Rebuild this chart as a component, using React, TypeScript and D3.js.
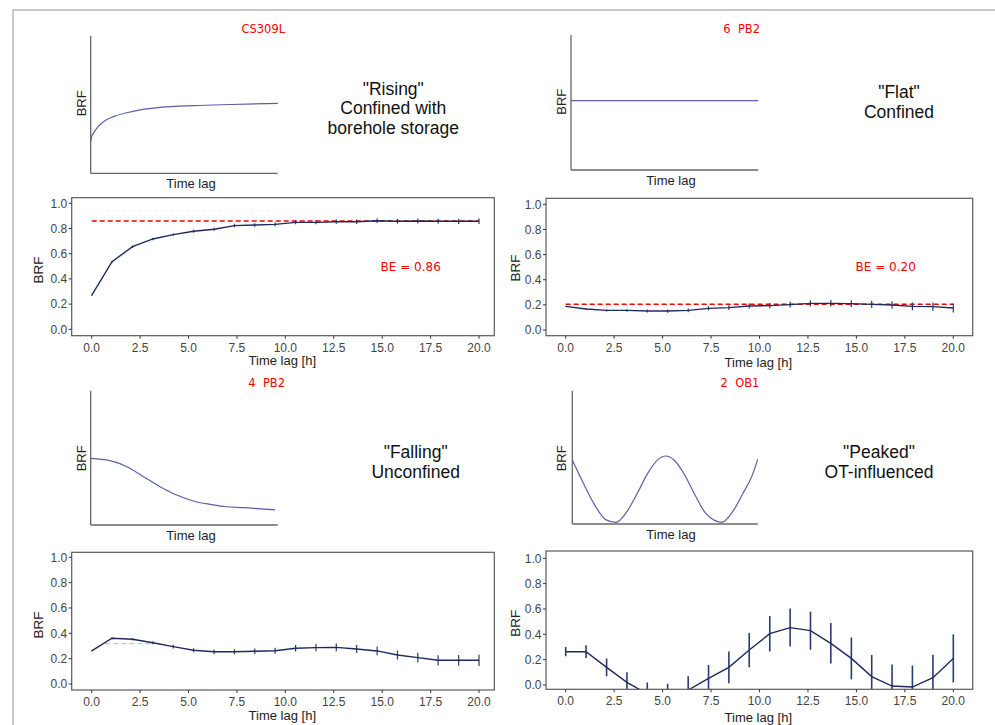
import React from 'react';
import * as d3 from 'd3';

// ---------- data ----------
const lagHours = [0, 1.05, 2.11, 3.16, 4.21, 5.26, 6.32, 7.37, 8.42, 9.47, 10.53, 11.58, 12.63, 13.68, 14.74, 15.79, 16.84, 17.89, 18.95, 20.0];
const xTickValues = [0, 2.5, 5, 7.5, 10, 12.5, 15, 17.5, 20];
const yTickValues = [0, 0.2, 0.4, 0.6, 0.8, 1.0];

const risingBRF = [0.27, 0.537, 0.656, 0.717, 0.751, 0.778, 0.794, 0.823, 0.828, 0.833, 0.849, 0.849, 0.854, 0.854, 0.862, 0.857, 0.86, 0.857, 0.857, 0.857];
const risingErr = [0.004, 0.008, 0.01, 0.01, 0.01, 0.012, 0.012, 0.014, 0.014, 0.015, 0.016, 0.016, 0.017, 0.018, 0.018, 0.019, 0.02, 0.02, 0.021, 0.022];

const flatBRF = [0.188, 0.167, 0.156, 0.156, 0.151, 0.151, 0.156, 0.172, 0.178, 0.191, 0.194, 0.202, 0.212, 0.212, 0.21, 0.204, 0.199, 0.188, 0.186, 0.175];
const flatErr = [0.004, 0.006, 0.008, 0.01, 0.012, 0.013, 0.015, 0.016, 0.018, 0.02, 0.021, 0.023, 0.025, 0.026, 0.027, 0.028, 0.03, 0.031, 0.033, 0.035];

const fallingBRF = [0.261, 0.361, 0.353, 0.326, 0.295, 0.266, 0.255, 0.255, 0.258, 0.263, 0.282, 0.287, 0.289, 0.276, 0.261, 0.229, 0.208, 0.187, 0.187, 0.187];
const fallingErr = [0.004, 0.008, 0.01, 0.012, 0.014, 0.016, 0.018, 0.02, 0.022, 0.024, 0.026, 0.028, 0.03, 0.032, 0.034, 0.036, 0.038, 0.04, 0.042, 0.044];

const peakedBRF = [0.263, 0.263, 0.139, 0.021, -0.07, -0.09, -0.04, 0.053, 0.139, 0.276, 0.405, 0.453, 0.429, 0.329, 0.21, 0.066, -0.008, -0.016, 0.058, 0.21];
const peakedErr = [0.037, 0.05, 0.07, 0.08, 0.09, 0.1, 0.11, 0.105, 0.125, 0.135, 0.14, 0.15, 0.15, 0.16, 0.165, 0.17, 0.17, 0.17, 0.18, 0.19];

const beValues = [0.86, 0.205, 0.318, null];
const beLabels = ['BE = 0.86', 'BE = 0.20', null, null];
const beSpan = [[0, 20], [0, 20], [0.7, 3.2], null];

const siteNames = ['CS309L', '6  PB2', '4  PB2', '2  OB1'];
const typeLabels = [
  ['"Rising"', 'Confined with', 'borehole storage'],
  ['"Flat"', 'Confined'],
  ['"Falling"', 'Unconfined'],
  ['"Peaked"', 'OT-influenced'],
];

// schematic (idealised) response shapes, normalised 0..1
const risingSketchX = [0, 0.005, 0.014, 0.032, 0.068, 0.121, 0.193, 0.28, 0.371, 0.55, 0.75, 1.0];
const risingSketchY = [0.23, 0.266, 0.29, 0.327, 0.375, 0.412, 0.44, 0.465, 0.479, 0.492, 0.5, 0.508];
const flatSketchX = [0, 1];
const flatSketchY = [0.514, 0.514];
const fallingSketchX = [0, 0.103, 0.193, 0.282, 0.371, 0.46, 0.549, 0.638, 0.727, 0.816, 0.986];
const fallingSketchY = [0.496, 0.479, 0.434, 0.36, 0.285, 0.223, 0.179, 0.154, 0.136, 0.129, 0.112];
const peakedSketchX = [0, 0.06, 0.12, 0.18, 0.236, 0.29, 0.35, 0.41, 0.46, 0.504, 0.55, 0.6, 0.66, 0.72, 0.806, 0.86, 0.92, 0.97, 1.0];
const peakedSketchY = [0.48, 0.305, 0.145, 0.033, 0.0125, 0.083, 0.229, 0.387, 0.481, 0.51, 0.478, 0.383, 0.223, 0.079, 0.0125, 0.083, 0.229, 0.363, 0.485];

// ---------- layout ----------
const SANS = '"Liberation Sans", Arial, Helvetica, sans-serif';
const DEJAVU = '"DejaVu Sans", Verdana, sans-serif';
const LINE_COLOR = '#1d2b5c';
const ERR_COLOR = '#2b3b6e';
const SKETCH_COLOR = '#5a5fa6';

const dataLayouts = [
  { box: [71.7, 494.3, 197.7, 335.7], xr: [91.7, 479], yr: [329.3, 203.3], ylab: [38, 270], xlab: [282.3, 365], be: [410.7, 270.5] },
  { box: [546, 972.7, 198.3, 335.7], xr: [565.7, 953.3], yr: [330, 204.3], ylab: [515, 268], xlab: [758.3, 366.5], be: [885.7, 270.5] },
  { box: [71.7, 494.3, 552.3, 690], xr: [91.7, 479], yr: [684, 557.3], ylab: [38.3, 625], xlab: [282.3, 720], be: [0, 0] },
  { box: [546, 972.7, 551, 689.3], xr: [565.7, 953.3], yr: [685, 558.3], ylab: [515, 623.3], xlab: [758.3, 721.5], be: [0, 0] },
];
const sketchLayouts = [
  { ax: 90.7, top: 35.7, bottom: 173.3, right: 277.7, title: [263.3, 33], ylab: [81.7, 103.3], xlab: [191, 187.8], text: [393.3, 94.5], lh: 19.5 },
  { ax: 571, top: 35, bottom: 170, right: 758.3, title: [741.7, 33], ylab: [561.7, 101.7], xlab: [671, 185.2], text: [899, 97.8], lh: 20 },
  { ax: 90.7, top: 390.7, bottom: 525, right: 277.7, title: [266.7, 386.7], ylab: [81.7, 458.3], xlab: [191, 539.5], text: [415.7, 457.8], lh: 20 },
  { ax: 572.3, top: 390.7, bottom: 524, right: 757.7, title: [740, 386.7], ylab: [561.7, 458.3], xlab: [671, 538.5], text: [879, 457.8], lh: 20 },
];

const series = [
  { y: risingBRF, e: risingErr },
  { y: flatBRF, e: flatErr },
  { y: fallingBRF, e: fallingErr },
  { y: peakedBRF, e: peakedErr },
];
const sketches = [
  { x: risingSketchX, y: risingSketchY },
  { x: flatSketchX, y: flatSketchY },
  { x: fallingSketchX, y: fallingSketchY },
  { x: peakedSketchX, y: peakedSketchY },
];

function DataPanel({ idx }: { idx: number }) {
  const L = dataLayouts[idx];
  const [bl, br, bt, bb] = L.box;
  const x = d3.scaleLinear().domain([0, 20]).range(L.xr);
  const y = d3.scaleLinear().domain([0, 1]).range(L.yr);
  const s = series[idx];
  const pts = lagHours.map((h, i) => [h, s.y[i], s.e[i]] as [number, number, number]);
  const line = d3.line<[number, number, number]>().x(d => x(d[0])).y(d => y(d[1]));
  const clipId = `clip-${idx}`;
  const be = beValues[idx];
  const span = beSpan[idx];
  return (
    <g>
      <defs>
        <clipPath id={clipId}>
          <rect x={bl} y={bt} width={br - bl} height={bb - bt} />
        </clipPath>
      </defs>
      <g clipPath={`url(#${clipId})`}>
        {be !== null && span && (
          <line x1={x(span[0])} x2={x(span[1])} y1={y(be)} y2={y(be)}
            stroke={idx === 2 ? '#f7b3b3' : '#ff0000'} strokeWidth={idx === 2 ? 1.3 : 1.6} strokeDasharray="5,3" />
        )}
        {pts.map((d, i) => (
          <line key={i} x1={x(d[0])} x2={x(d[0])} y1={y(d[1] - d[2])} y2={y(d[1] + d[2])}
            stroke={ERR_COLOR} strokeWidth={idx === 3 ? 1.6 : 1.2} />
        ))}
        <path d={line(pts) || ''} fill="none" stroke={LINE_COLOR} strokeWidth={1.4} />
      </g>
      <rect x={bl} y={bt} width={br - bl} height={bb - bt} fill="none" stroke="#5a5a5a" strokeWidth={1.2} />
      {yTickValues.map(v => (
        <g key={'y' + v}>
          <line x1={bl - 3} x2={bl} y1={y(v)} y2={y(v)} stroke="#333" strokeWidth={1} />
          <text x={bl - 4.5} y={y(v) + 4.2} textAnchor="end" fontSize={12} fontFamily={SANS} fill="#444">{d3.format('.1f')(v)}</text>
        </g>
      ))}
      {xTickValues.map(v => (
        <g key={'x' + v}>
          <line x1={x(v)} x2={x(v)} y1={bb} y2={bb + 3} stroke="#333" strokeWidth={1} />
          <text x={x(v)} y={bb + 15.8} textAnchor="middle" fontSize={12} fontFamily={SANS} fill="#444">{d3.format('.1f')(v)}</text>
        </g>
      ))}
      <text x={L.xlab[0]} y={L.xlab[1]} textAnchor="middle" fontSize={13} fontFamily={SANS} fill="#222">Time lag [h]</text>
      <text transform={`translate(${L.ylab[0] + 4.5},${L.ylab[1]}) rotate(-90)`} textAnchor="middle" fontSize={13.5} fontFamily={SANS} fill="#222">BRF</text>
      {beLabels[idx] && (
        <text x={L.be[0]} y={L.be[1]} textAnchor="middle" fontSize={12} fontFamily={DEJAVU} fill="#ff0000">{beLabels[idx]}</text>
      )}
    </g>
  );
}

function SketchPanel({ idx }: { idx: number }) {
  const L = sketchLayouts[idx];
  const sx = d3.scaleLinear().domain([0, 1]).range([L.ax, L.right]);
  const sy = d3.scaleLinear().domain([0, 1]).range([L.bottom, L.top]);
  const sk = sketches[idx];
  const pts = sk.x.map((v, i) => [v, sk.y[i]] as [number, number]);
  const line = d3.line<[number, number]>().x(d => sx(d[0])).y(d => sy(d[1])).curve(d3.curveMonotoneX);
  return (
    <g>
      <path d={line(pts) || ''} fill="none" stroke={SKETCH_COLOR} strokeWidth={1.2} />
      <line x1={L.ax} x2={L.ax} y1={L.top} y2={L.bottom} stroke="#666" strokeWidth={1.3} />
      <line x1={L.ax} x2={L.right} y1={L.bottom} y2={L.bottom} stroke="#666" strokeWidth={1.3} />
      <text x={L.title[0]} y={L.title[1]} textAnchor="middle" fontSize={11.5} fontFamily={DEJAVU} fill="#ff0000" style={{ whiteSpace: 'pre' }}>{siteNames[idx]}</text>
      <text transform={`translate(${L.ylab[0] + 4.5},${L.ylab[1]}) rotate(-90)`} textAnchor="middle" fontSize={13} fontFamily={SANS} fill="#222">BRF</text>
      <text x={L.xlab[0]} y={L.xlab[1]} textAnchor="middle" fontSize={13} fontFamily={SANS} fill="#222">Time lag</text>
      {typeLabels[idx].map((t, i) => (
        <text key={i} x={L.text[0]} y={L.text[1] + i * L.lh} textAnchor="middle" fontSize={17.5} fontFamily={SANS} fill="#111">{t}</text>
      ))}
    </g>
  );
}

export default function App() {
  return (
    <svg width={995} height={725} style={{ position: 'absolute', left: 0, top: 0, background: '#fff' }}>
      <rect x={0} y={0} width={995} height={725} fill="#fff" />
      <line x1={12} x2={995} y1={10} y2={10} stroke="#c8c8c8" strokeWidth={2} />
      <line x1={13} x2={13} y1={9} y2={725} stroke="#c8c8c8" strokeWidth={2} />
      {[0, 1, 2, 3].map(i => <SketchPanel key={'s' + i} idx={i} />)}
      {[0, 1, 2, 3].map(i => <DataPanel key={'d' + i} idx={i} />)}
    </svg>
  );
}
